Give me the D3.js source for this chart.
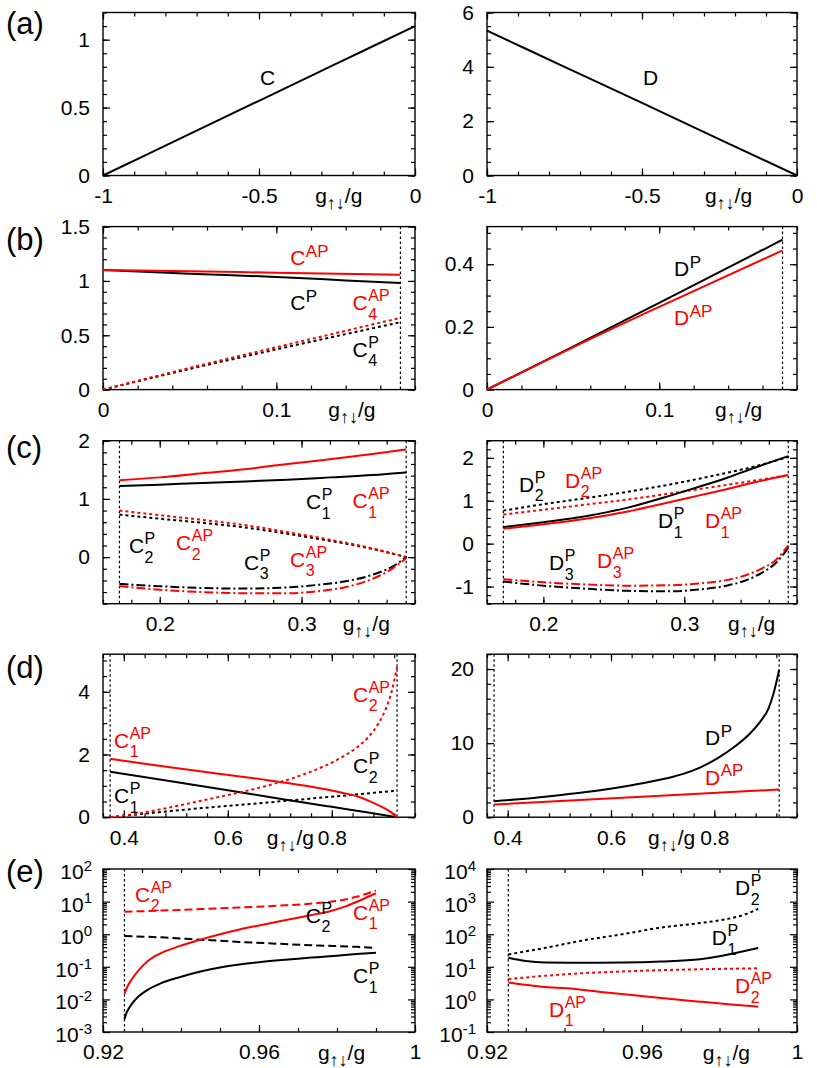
<!DOCTYPE html>
<html><head><meta charset="utf-8">
<script src="https://cdn.jsdelivr.net/npm/d3@7"></script>
<style>
body{margin:0;background:#fff;}
text{font-family:"Liberation Sans",Arial,Helvetica,sans-serif;}
</style>
</head><body>
<svg id="chart" width="817" height="1068"></svg>
<script>
// ---------------- DATA ----------------
// panel (a)
const aC_x=[-1,-0.75,-0.5,-0.25,0], aC_y=[0,0.275,0.55,0.825,1.1];
const aD_x=[-1,-0.75,-0.5,-0.25,0], aD_y=[5.33,4.0,2.67,1.33,0];
// panel (b)
const bCAP_x=[0,0.05,0.1,0.1716], bCAP_y=[1.1,1.09,1.075,1.058];
const bCP_x=[0,0.05,0.1,0.14,0.1716], bCP_y=[1.1,1.067,1.037,1.005,0.98];
const bC4AP_x=[0,0.05,0.1,0.1716], bC4AP_y=[0,0.2,0.39,0.66];
const bC4P_x=[0,0.05,0.1,0.1716], bC4P_y=[0,0.19,0.37,0.62];
const bDP_x=[0,0.05,0.1,0.1716], bDP_y=[0,0.137,0.277,0.478];
const bDAP_x=[0,0.05,0.1,0.1716], bDAP_y=[0,0.135,0.264,0.444];
// panel (c)
const cX8=[0.1716,0.2,0.23,0.26,0.29,0.32,0.35,0.3738];
const cX9=[0.1716,0.2,0.23,0.26,0.29,0.31,0.33,0.35,0.3738];
const cX11=[0.1716,0.2,0.23,0.26,0.29,0.31,0.33,0.345,0.355,0.365,0.3738];
const cC1AP_y=[1.32,1.37,1.44,1.51,1.60,1.68,1.77,1.85];
const cC1P_y=[1.22,1.245,1.275,1.30,1.33,1.37,1.41,1.455];
const cC2AP_y=[0.80,0.72,0.64,0.55,0.43,0.30,0.15,0.0];
const cC2P_y=[0.73,0.66,0.59,0.51,0.40,0.28,0.14,0.0];
const cC3P_y=[-0.46,-0.50,-0.53,-0.54,-0.52,-0.48,-0.42,-0.34,-0.26,-0.15,0.0];
const cC3AP_y=[-0.50,-0.56,-0.60,-0.62,-0.62,-0.59,-0.52,-0.42,-0.32,-0.18,-0.02];
const cD1P_y=[0.385,0.50,0.64,0.84,1.12,1.32,1.53,1.77,2.04];
const cD1AP_y=[0.35,0.45,0.58,0.75,0.97,1.12,1.27,1.43,1.60];
const cD2P_y=[0.77,0.92,1.06,1.21,1.38,1.58,1.80,2.02];
const cD2AP_y=[0.68,0.79,0.91,1.03,1.17,1.32,1.47,1.60];
const cD3P_y=[-0.885,-0.98,-1.05,-1.10,-1.11,-1.07,-0.98,-0.84,-0.68,-0.45,-0.1];
const cD3AP_y=[-0.83,-0.90,-0.95,-0.98,-0.97,-0.93,-0.85,-0.72,-0.58,-0.38,-0.04];
// panel (d)
const dC1AP_x=[0.3737,0.45,0.55,0.65,0.75,0.82,0.85,0.87,0.89,0.91,0.9255];
const dC1AP_y=[1.86,1.68,1.46,1.24,1.00,0.78,0.66,0.53,0.38,0.2,0.0];
const dC1P_x=[0.3737,0.5,0.6,0.7,0.8,0.87,0.9255];
const dC1P_y=[1.45,1.12,0.86,0.59,0.33,0.15,0.0];
const dC2AP_x=[0.3737,0.42,0.47,0.52,0.57,0.62,0.67,0.72,0.77,0.82,0.85,0.87,0.89,0.905,0.915,0.9255];
const dC2AP_y=[0,0.1,0.25,0.42,0.60,0.78,0.98,1.22,1.52,1.92,2.25,2.55,3.0,3.5,4.0,4.8];
const dC2P_x=[0.3737,0.45,0.55,0.65,0.75,0.85,0.9255];
const dC2P_y=[0,0.13,0.29,0.43,0.58,0.73,0.85];
const dDP_x=[0.3737,0.45,0.515,0.579,0.643,0.708,0.74,0.772,0.805,0.837,0.869,0.89,0.905,0.915,0.9255];
const dDP_y=[2.16,2.6,3.1,3.65,4.35,5.25,5.85,6.7,7.9,9.4,11.3,13.0,14.7,16.8,19.9];
const dDAP_x=[0.3737,0.65,0.9255];
const dDAP_y=[1.7,2.72,3.73];
// panel (e)
const eC1AP_x=[0.9255,0.926,0.9265,0.9273,0.929,0.9315,0.9345,0.9396,0.945,0.95,0.955,0.96,0.965,0.97,0.975,0.978,0.982,0.986,0.99];
const eC1AP_y=[0.0148,0.021,0.028,0.04,0.075,0.15,0.25,0.43,0.68,1.0,1.4,1.85,2.45,3.2,4.2,5.0,7.0,11,18];
const eC1P_x=[0.9255,0.926,0.9265,0.9273,0.929,0.9315,0.9345,0.9396,0.945,0.95,0.955,0.96,0.965,0.97,0.975,0.98,0.985,0.99];
const eC1P_y=[0.0025,0.0038,0.005,0.007,0.012,0.02,0.03,0.048,0.072,0.095,0.117,0.138,0.158,0.178,0.198,0.22,0.245,0.27];
const eC2P_x=[0.9255,0.935,0.945,0.955,0.965,0.975,0.985,0.99];
const eC2P_y=[0.88,0.8,0.68,0.58,0.51,0.45,0.41,0.38];
const eC2AP_x=[0.9255,0.935,0.945,0.955,0.965,0.975,0.98,0.985,0.99];
const eC2AP_y=[4.9,5.3,5.9,6.6,7.5,9.0,10.5,14,22];
const eD2P_x=[0.9255,0.935,0.945,0.955,0.965,0.975,0.983,0.987,0.99];
const eD2P_y=[24,38,65,100,160,220,310,420,600];
const eD1P_x=[0.9255,0.93,0.935,0.945,0.955,0.965,0.975,0.98,0.985,0.99];
const eD1P_y=[19,15,13.5,13.3,13.5,14.5,17,21,28,38];
const eD2AP_x=[0.9255,0.935,0.945,0.955,0.965,0.975,0.985,0.99];
const eD2AP_y=[4.2,5.3,6.4,7.2,7.9,8.4,8.8,9.0];
const eD1AP_x=[0.9255,0.93,0.935,0.9406,0.95,0.958,0.965,0.975,0.983,0.99];
const eD1AP_y=[3.3,2.8,2.4,2.2,1.65,1.35,1.1,0.85,0.7,0.6];

// tick values / labels
const aXTicks=[-1,-0.5,0], aXLabels=["-1","-0.5","0"];
const aLYTicks=[0,0.5,1], aLYLabels=["0","0.5","1"];
const aRYTicks=[0,2,4,6], aRYLabels=["0","2","4","6"];
const bXTicks=[0,0.1], bXLabels=["0","0.1"];
const bLYTicks=[0,0.5,1,1.5], bLYLabels=["0","0.5","1","1.5"];
const bRYTicks=[0,0.2,0.4], bRYLabels=["0","0.2","0.4"];
const cXTicks=[0.2,0.3], cXLabels=["0.2","0.3"];
const cLYTicks=[0,1,2], cLYLabels=["0","1","2"];
const cRYTicks=[-1,0,1,2], cRYLabels=["-1","0","1","2"];
const dXTicks=[0.4,0.6,0.8], dXLabels=["0.4","0.6","0.8"];
const dLYTicks=[0,2,4], dLYLabels=["0","2","4"];
const dRYTicks=[0,10,20], dRYLabels=["0","10","20"];
const eXTicks=[0.92,0.96,1], eXLabels=["0.92","0.96","1"];
const eLYExp=[-3,-2,-1,0,1,2];
const eRYExp=[-1,0,1,2,3,4];
const panelTags=["(a)","(b)","(c)","(d)","(e)"];

// ---------------- LAYOUT ----------------
const RED="#ff0000", BLK="#000000";
const rowsTop=[12.5,226.6,440.7,654.2,869], rowH=163;
const cols=[[103,415],[487,797]];
const tagBase=[34,250,458,678,882];
const DOT="3,3", DASH="8,4", DASHDOT="9,3,2,3";

const svg=d3.select("#chart");
svg.append("rect").attr("width",817).attr("height",1068).attr("fill","#fff");

function S(x,y,color,dash){return {x,y,color,dash};}
function L(base,sup,sub,x,y,color){return {base,sup,sub,x,y,color};}

const panels=[
 {row:0,col:0,xd:[-1,0],yd:[0,1.2],xt:aXTicks,xl:aXLabels,xm:0.1,yt:aLYTicks,yl:aLYLabels,ym:0.1,vl:[],title:-0.32,
  series:[S(aC_x,aC_y,BLK,null)],labels:[L("C",null,null,-0.497,0.668,BLK)]},
 {row:0,col:1,xd:[-1,0],yd:[0,6],xt:aXTicks,xl:aXLabels,xm:0.1,yt:aRYTicks,yl:aRYLabels,ym:0.5,vl:[],title:-0.297,
  series:[S(aD_x,aD_y,BLK,null)],labels:[L("D",null,null,-0.497,3.33,BLK)]},
 {row:1,col:0,xd:[0,0.18],yd:[0,1.5],xt:bXTicks,xl:bXLabels,xm:0.02,yt:bLYTicks,yl:bLYLabels,ym:0.1,vl:[0.1716],title:0.13,
  series:[S(bCP_x,bCP_y,BLK,null),S(bCAP_x,bCAP_y,RED,null),S(bC4P_x,bC4P_y,BLK,DOT),S(bC4AP_x,bC4AP_y,RED,DOT)],
  labels:[L("C","AP",null,0.108,1.146,RED),L("C","P",null,0.108,0.732,BLK),L("C","AP","4",0.144,0.732,RED),L("C","P","4",0.144,0.303,BLK)]},
 {row:1,col:1,xd:[0,0.18],yd:[0,0.52],xt:bXTicks,xl:bXLabels,xm:0.02,yt:bRYTicks,yl:bRYLabels,ym:0.05,vl:[0.1716],title:0.1324,
  series:[S(bDP_x,bDP_y,BLK,null),S(bDAP_x,bDAP_y,RED,null)],
  labels:[L("D","P",null,0.1086,0.362,BLK),L("D","AP",null,0.1086,0.206,RED)]},
 {row:2,col:0,xd:[0.16,0.38],yd:[-0.8,2],xt:cXTicks,xl:cXLabels,xm:0.02,yt:cLYTicks,yl:cLYLabels,ym:0.2,vl:[0.1716,0.3738],title:0.329,
  series:[S(cX8,cC1P_y,BLK,null),S(cX8,cC1AP_y,RED,null),S(cX8,cC2P_y,BLK,DOT),S(cX8,cC2AP_y,RED,DOT),S(cX11,cC3P_y,BLK,DASHDOT),S(cX11,cC3AP_y,RED,DASHDOT)],
  labels:[L("C","P","1",0.3032,0.82,BLK),L("C","AP","1",0.336,0.84,RED),L("C","P","2",0.1783,0.07,BLK),L("C","AP","2",0.2115,0.12,RED),L("C","P","3",0.2594,-0.22,BLK),L("C","AP","3",0.2919,-0.165,RED)]},
 {row:2,col:1,xd:[0.16,0.38],yd:[-1.4,2.4],xt:cXTicks,xl:cXLabels,xm:0.02,yt:cRYTicks,yl:cRYLabels,ym:0.2,vl:[0.1716,0.3738],title:0.331,
  series:[S(cX8,cD2P_y,BLK,DOT),S(cX8,cD2AP_y,RED,DOT),S(cX9,cD1P_y,BLK,null),S(cX9,cD1AP_y,RED,null),S(cX11,cD3P_y,BLK,DASHDOT),S(cX11,cD3AP_y,RED,DASHDOT)],
  labels:[L("D","P","2",0.1827,1.21,BLK),L("D","AP","2",0.2154,1.30,RED),L("D","P","1",0.2814,0.364,BLK),L("D","AP","1",0.3147,0.364,RED),L("D","P","3",0.204,-0.615,BLK),L("D","AP","3",0.2381,-0.569,RED)]},
 {row:3,col:0,xd:[0.36,0.96],yd:[0,5.2],xt:dXTicks,xl:dXLabels,xm:0.04,yt:dLYTicks,yl:dLYLabels,ym:0.5,vl:[0.3737,0.9255],title:0.675,
  series:[S(dC1P_x,dC1P_y,BLK,null),S(dC2P_x,dC2P_y,BLK,DOT),S(dC1AP_x,dC1AP_y,RED,null),S(dC2AP_x,dC2AP_y,RED,DOT)],
  labels:[L("C","AP","1",0.3812,2.21,RED),L("C","P","1",0.3812,0.453,BLK),L("C","AP","2",0.8408,3.68,RED),L("C","P","2",0.8408,1.41,BLK)]},
 {row:3,col:1,xd:[0.36,0.96],yd:[0,22],xt:dXTicks,xl:dXLabels,xm:0.04,yt:dRYTicks,yl:dRYLabels,ym:2,vl:[0.3737,0.9255],title:0.6716,
  series:[S(dDP_x,dDP_y,BLK,null),S(dDAP_x,dDAP_y,RED,null)],
  labels:[L("D","P",null,0.7819,9.74,BLK),L("D","AP",null,0.7819,4.35,RED)]},
 {row:4,col:0,xd:[0.92,1],yd:[1e-3,1e2],log:true,xt:eXTicks,xl:eXLabels,xm:0.01,yexp:eLYExp,vl:[0.9255],title:0.9751,
  series:[S(eC1P_x,eC1P_y,BLK,null),S(eC2P_x,eC2P_y,BLK,DASH),S(eC1AP_x,eC1AP_y,RED,null),S(eC2AP_x,eC2AP_y,RED,DASH)],
  labels:[L("C","AP","2",0.9282,10,RED),L("C","AP","1",0.9841,2.73,RED),L("C","P","2",0.972,2.21,BLK),L("C","P","1",0.9841,0.0318,BLK)]},
 {row:4,col:1,xd:[0.92,1],yd:[1e-1,1e4],log:true,xt:eXTicks,xl:eXLabels,xm:0.01,yexp:eRYExp,vl:[0.9255],title:0.9757,
  series:[S(eD2P_x,eD2P_y,BLK,DOT),S(eD1P_x,eD1P_y,BLK,null),S(eD2AP_x,eD2AP_y,RED,DOT),S(eD1AP_x,eD1AP_y,RED,null)],
  labels:[L("D","P","2",0.984,1585,BLK),L("D","P","1",0.978,46.6,BLK),L("D","AP","2",0.984,1.57,RED),L("D","AP","1",0.936,0.295,RED)]}
];

function linMinor(dom,step){
  const s=Math.ceil(dom[0]/step-1e-6), e=Math.floor(dom[1]/step+1e-6);
  return d3.range(s,e+1).map(k=>+(k*step).toFixed(6));
}
function logMinor(dom){
  const out=[];
  const k0=Math.floor(Math.log10(dom[0])), k1=Math.ceil(Math.log10(dom[1]));
  for(let k=k0;k<k1;k++) for(let m=2;m<=9;m++){const v=m*Math.pow(10,k); if(v>dom[0]&&v<dom[1]) out.push(v);}
  return out;
}
const FS=21;

function styleAxis(sel){
  sel.select(".domain").remove();
  sel.selectAll(".tick line").attr("stroke","#000").attr("stroke-width",1.2);
  sel.attr("font-family",null).attr("font-size",null);
  sel.selectAll(".tick text").attr("fill","#000").style("font-size",FS+"px");
}

panels.forEach(p=>{
  const [x0,x1]=cols[p.col]; const y0=rowsTop[p.row], y1=y0+rowH;
  const xs=d3.scaleLinear().domain(p.xd).range([x0,x1]);
  const ys=(p.log?d3.scaleLog():d3.scaleLinear()).domain(p.yd).range([y1,y0]);
  const g=svg.append("g");
  const MJ=7, MN=4;
  const xMin=linMinor(p.xd,p.xm);
  const lblMap=new Map(p.xt.map((v,i)=>[v,p.xl[i]]));
  g.append("g").attr("transform",`translate(0,${y1})`).call(d3.axisBottom(xs).tickValues(xMin).tickSize(-MN).tickFormat("")).call(styleAxis);
  g.append("g").attr("transform",`translate(0,${y0})`).call(d3.axisTop(xs).tickValues(xMin).tickSize(-MN).tickFormat("")).call(styleAxis);
  g.append("g").attr("transform",`translate(0,${y1})`).call(d3.axisBottom(xs).tickValues(p.xt).tickSize(-MJ).tickPadding(12.5).tickFormat(d=>lblMap.get(d))).call(styleAxis);
  g.append("g").attr("transform",`translate(0,${y0})`).call(d3.axisTop(xs).tickValues(p.xt).tickSize(-MJ).tickFormat("")).call(styleAxis);
  if(!p.log){
    const yMin=linMinor(p.yd,p.ym);
    const ylMap=new Map(p.yt.map((v,i)=>[v,p.yl[i]]));
    g.append("g").attr("transform",`translate(${x0},0)`).call(d3.axisLeft(ys).tickValues(yMin).tickSize(-MN).tickFormat("")).call(styleAxis);
    g.append("g").attr("transform",`translate(${x1},0)`).call(d3.axisRight(ys).tickValues(yMin).tickSize(-MN).tickFormat("")).call(styleAxis);
    g.append("g").attr("transform",`translate(${x0},0)`).call(d3.axisLeft(ys).tickValues(p.yt).tickSize(-MJ).tickPadding(13).tickFormat(d=>ylMap.get(d))).call(styleAxis);
    g.append("g").attr("transform",`translate(${x1},0)`).call(d3.axisRight(ys).tickValues(p.yt).tickSize(-MJ).tickFormat("")).call(styleAxis);
  } else {
    const majors=p.yexp.map(e=>Math.pow(10,e));
    const yMin=logMinor(p.yd);
    g.append("g").attr("transform",`translate(${x0},0)`).call(d3.axisLeft(ys).tickValues(yMin).tickSize(-MN).tickFormat("")).call(styleAxis);
    g.append("g").attr("transform",`translate(${x1},0)`).call(d3.axisRight(ys).tickValues(yMin).tickSize(-MN).tickFormat("")).call(styleAxis);
    const ax=g.append("g").attr("transform",`translate(${x0},0)`).call(d3.axisLeft(ys).tickValues(majors).tickSize(-MJ).tickPadding(11).tickFormat("")).call(styleAxis);
    ax.selectAll(".tick text").attr("dy","0.45em").each(function(d,i){
      const t=d3.select(this);
      t.append("tspan").text("10");
      t.append("tspan").attr("dy","-0.55em").style("font-size","15px").text(String(p.yexp[i]));
    });
    g.append("g").attr("transform",`translate(${x1},0)`).call(d3.axisRight(ys).tickValues(majors).tickSize(-MJ).tickFormat("")).call(styleAxis);
  }
  g.append("rect").attr("x",x0).attr("y",y0).attr("width",x1-x0).attr("height",y1-y0)
    .attr("fill","none").attr("stroke","#000").attr("stroke-width",1.4);
  p.vl.forEach(v=>{
    g.append("line").attr("x1",xs(v)).attr("x2",xs(v)).attr("y1",y0).attr("y2",y1)
      .attr("stroke","#000").attr("stroke-width",1.2).attr("stroke-dasharray","2.5,2.5");
  });
  p.series.forEach(s=>{
    const pts=s.x.map((xv,i)=>[xv,s.y[i]]);
    const line=d3.line().x(d=>xs(d[0])).y(d=>ys(d[1])).curve(d3.curveMonotoneX);
    g.append("path").attr("d",line(pts)).attr("fill","none").attr("stroke",s.color)
      .attr("stroke-width",2).attr("stroke-dasharray",s.dash||null).attr("stroke-linejoin","round");
  });
  // curve labels: one text element each, with stacked super/subscript tspans
  p.labels.forEach(a=>{
    const t=g.append("text").attr("x",xs(a.x)).attr("y",ys(a.y)).attr("fill",a.color).style("font-size","21px");
    t.append("tspan").text(a.base);
    let supW=0;
    const both=a.sup&&a.sub;
    if(a.sup){
      const sp=t.append("tspan").attr("dx",0.5).attr("dy",both?-9:-8.5).style("font-size",both?"16px":"17px").text(a.sup);
      supW=sp.node().getComputedTextLength();
    }
    if(a.sub){
      t.append("tspan").attr("dx",a.sup?-supW:0.5).attr("dy",a.sup?18.5:7).style("font-size",both?"16px":"17px").text(a.sub);
    }
  });
  const tt=g.append("text").attr("x",xs(p.title)).attr("y",y1+27.5).attr("fill","#000").style("font-size",FS+"px");
  tt.append("tspan").text("g");
  tt.append("tspan").attr("dy",6).style("font-size","18px").text("\u2191\u2193");
  tt.append("tspan").attr("dy",-6).text("/g");
  if(p.col===0){
    svg.append("text").attr("x",6).attr("y",tagBase[p.row]).attr("fill","#000").style("font-size","31px").text(panelTags[p.row]);
  }
});
</script>
</body></html>
